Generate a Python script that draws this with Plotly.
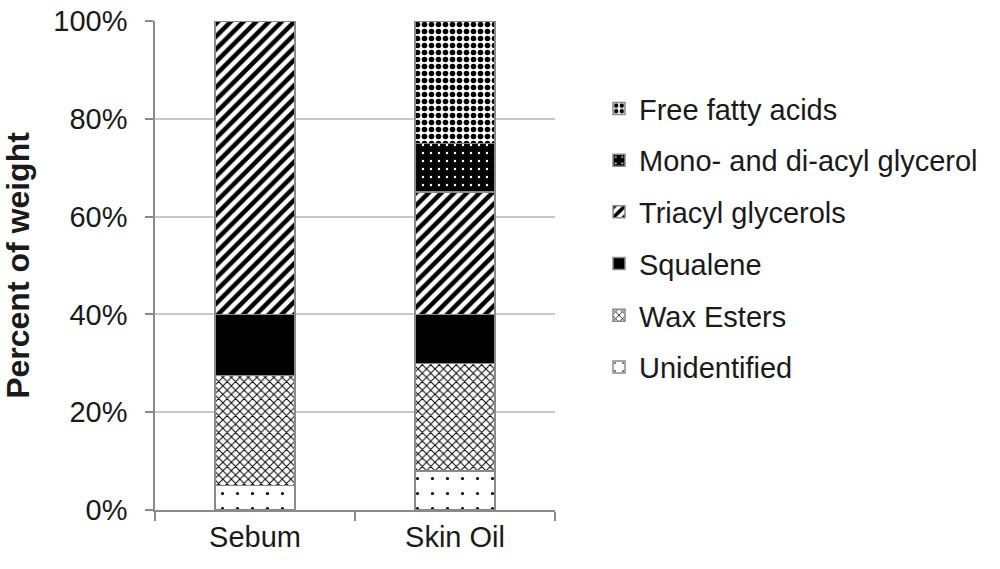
import plotly.graph_objects as go

# Lipid composition (percent of weight) for sebum and skin surface oil
samples = ["Sebum", "Skin Oil"]
unidentified = [5, 8]
wax_esters = [22.5, 22]
squalene = [12.5, 10]
triacyl_glycerols = [60, 25]
mono_di_acyl_glycerol = [0, 10]
free_fatty_acids = [0, 25]

y_ticks = [0, 20, 40, 60, 80, 100]
y_tick_labels = ["0%", "20%", "40%", "60%", "80%", "100%"]

# bottom-to-top stacking order with the fill pattern for each component
components = [
    ("Unidentified", unidentified,
     dict(shape=".", size=15, solidity=0.035, fgcolor="black", bgcolor="white")),
    ("Wax Esters", wax_esters,
     dict(shape="x", size=6, solidity=0.3, fgcolor="black", bgcolor="white")),
    ("Squalene", squalene, None),
    ("Triacyl glycerols", triacyl_glycerols,
     dict(shape="/", size=9, solidity=0.5, fgcolor="black", bgcolor="white")),
    ("Mono- and di-acyl glycerol", mono_di_acyl_glycerol,
     dict(shape=".", size=8, solidity=0.07, fgcolor="white", bgcolor="black")),
    ("Free fatty acids", free_fatty_acids,
     dict(shape=".", size=7, solidity=0.5, fgcolor="black", bgcolor="white")),
]

fig = go.Figure()
for rank, (name, values, pattern) in enumerate(components):
    marker = dict(color="black", line=dict(color="#8a8a8a", width=1.5))
    if pattern is not None:
        marker["color"] = "white"
        marker["pattern"] = dict(fillmode="replace", **pattern)
    fig.add_trace(go.Bar(
        name=name, x=samples, y=values, width=0.4, marker=marker,
        legendgroup=name, legendrank=1000 - rank,
    ))

fig.update_layout(
    barmode="stack",
    width=1000, height=569,
    margin=dict(l=155, r=445, t=21, b=59),
    paper_bgcolor="white", plot_bgcolor="white",
    font=dict(family="Liberation Sans, Arial, sans-serif", size=29, color="#1a1a1a"),
    showlegend=True,
    legend=dict(
        traceorder="grouped", tracegroupgap=11,
        x=1.11, xanchor="left", y=0.873, yanchor="top",
        font=dict(size=29), itemwidth=30, bgcolor="rgba(0,0,0,0)",
    ),
    xaxis=dict(
        showline=True, linecolor="#8a8a8a", linewidth=1.5,
        ticks="outside", tickson="boundaries", ticklen=9, tickcolor="#8a8a8a",
        tickwidth=1.5, showgrid=False, tickfont=dict(size=29), automargin=False,
    ),
    yaxis=dict(
        range=[0, 100], tickvals=y_ticks, ticktext=y_tick_labels,
        showline=True, linecolor="#8a8a8a", linewidth=1.5,
        ticks="outside", ticklen=8, tickcolor="#8a8a8a", tickwidth=1.5,
        showgrid=True, gridcolor="#c8c8c8", gridwidth=1.5,
        ticklabelstandoff=12, tickfont=dict(size=29),
        title=dict(text="<b>Percent of weight</b>", font=dict(size=32), standoff=18),
        zeroline=False, automargin=False,
    ),
)

fig.write_html("out.html")
